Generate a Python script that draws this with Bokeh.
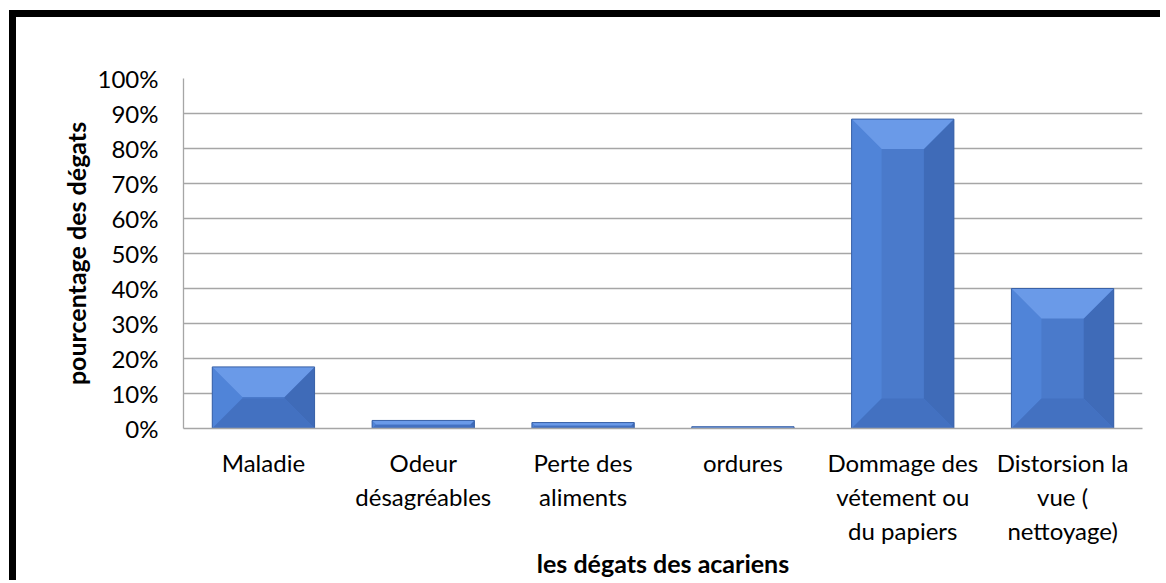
from bokeh.plotting import figure
from bokeh.models import Range1d, FixedTicker, NumeralTickFormatter, ColumnDataSource
from bokeh.embed import file_html
from bokeh.resources import INLINE

# ---- data ----
categories = ["Maladie", "Odeur\ndésagréables", "Perte des\naliments", "ordures",
              "Dommage des\nvétement ou\ndu papiers", "Distorsion la\nvue (\nnettoyage)"]
values = [0.176, 0.023, 0.017, 0.005, 0.884, 0.40]
y_ticks = [0.0, 0.1, 0.2, 0.3, 0.4, 0.5, 0.6, 0.7, 0.8, 0.9, 1.0]
x_title = "les dégats des acariens"
y_title = "pourcentage des dégats"

FONT = "Lato"
W, H = 1160, 580
ML, MR, MT, MB = 183, 18, 78, 152
frame_w = W - ML - MR
frame_h = H - MT - MB

n = len(categories)
p = figure(width=W, height=H, output_backend="svg", toolbar_location=None,
           x_range=Range1d(0, n), y_range=Range1d(0, 1),
           min_border_left=ML, min_border_right=MR, min_border_top=MT, min_border_bottom=MB)
p.outline_line_color = None
p.background_fill_color = "white"
p.border_fill_color = None
# outer black frame of the chart area (left and top edges visible), drawn as page background
p.styles = {
    "background-color": "white",
    "background-image": "linear-gradient(black, black), linear-gradient(black, black)",
    "background-size": "7px 100%, 100% 7px",
    "background-position": "9px 10px, 9px 10px",
    "background-repeat": "no-repeat",
}

# bars with bevel
bw = 0.64
centers = [i + 0.5 for i in range(n)]
left = [c - bw / 2 for c in centers]
right = [c + bw / 2 for c in centers]
bevel_px = 30.0
bv0 = bevel_px / frame_h
px_per_x = frame_w / n

tops_x, tops_y, bots_x, bots_y, lefts_x, lefts_y, rights_x, rights_y = ([] for _ in range(8))
for L, R, v in zip(left, right, values):
    b_v = min(bv0, v / 2)
    b_h = b_v * frame_h / px_per_x
    Li, Ri, Ti, Bi = L + b_h, R - b_h, v - b_v, b_v
    tops_x.append([L, R, Ri, Li]); tops_y.append([v, v, Ti, Ti])
    bots_x.append([L, R, Ri, Li]); bots_y.append([0, 0, Bi, Bi])
    lefts_x.append([L, L, Li, Li]); lefts_y.append([0, v, Ti, Bi])
    rights_x.append([R, R, Ri, Ri]); rights_y.append([0, v, Ti, Bi])

src = ColumnDataSource(dict(left=left, right=right, top=values, bottom=[0] * n))
p.quad(left="left", right="right", top="top", bottom="bottom", source=src,
       fill_color="#4A7ACB", line_color=None)
p.patches(lefts_x, lefts_y, fill_color="#5084D8", line_color=None)
p.patches(rights_x, rights_y, fill_color="#3F6BB8", line_color=None)
p.patches(bots_x, bots_y, fill_color="#4371C1", line_color=None)
p.patches(tops_x, tops_y, fill_color="#6A9AE8", line_color=None)
p.quad(left="left", right="right", top="top", bottom="bottom", source=src,
       fill_color=None, line_color="#3A62A7", line_width=1)

# axes
p.xgrid.grid_line_color = None
p.ygrid.ticker = FixedTicker(ticks=y_ticks)
p.ygrid.grid_line_color = "#A6A6A6"
p.ygrid.grid_line_width = 1.3

p.yaxis.ticker = FixedTicker(ticks=y_ticks)
p.yaxis.formatter = NumeralTickFormatter(format="0%")
p.xaxis.ticker = FixedTicker(ticks=centers)
p.xaxis.major_label_overrides = {c: lab for c, lab in zip(centers, categories)}

for ax in (p.xaxis, p.yaxis):
    ax.axis_line_color = "#A6A6A6"
    ax.axis_line_width = 1.3
    ax.major_tick_line_color = None
    ax.minor_tick_line_color = None
    ax.major_label_text_font = FONT
    ax.major_label_text_font_size = "24px"
    ax.major_label_text_color = "black"
    ax.axis_label_text_font = FONT
    ax.axis_label_text_font_style = "bold"
    ax.axis_label_text_font_size = "25px"
    ax.axis_label_text_color = "black"

p.yaxis.major_label_standoff = 19
p.yaxis.axis_label = y_title
p.yaxis.axis_label_standoff = 4
p.xaxis.major_label_standoff = 13
p.xaxis.major_label_text_line_height = 1.18
p.xaxis.axis_label = x_title
p.xaxis.axis_label_standoff = 0

open("out.html", "w").write(file_html(p, INLINE))
